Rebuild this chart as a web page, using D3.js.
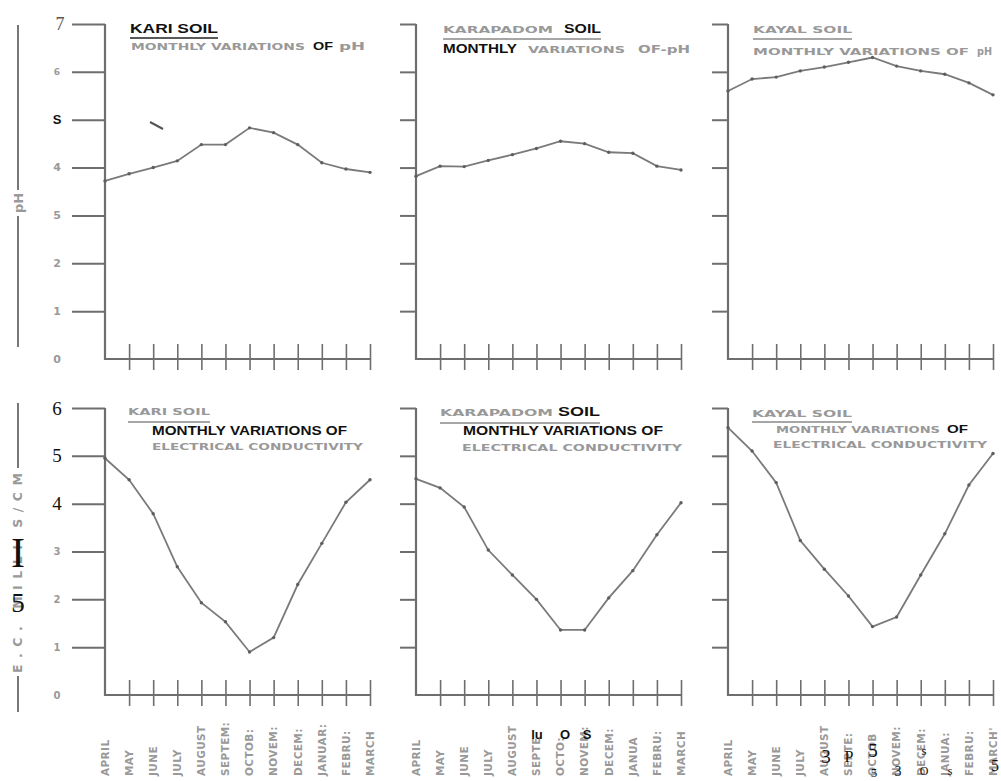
<!DOCTYPE html>
<meta charset="utf-8">
<script src="https://d3js.org/d3.v7.min.js"></script>
<style>
body { margin: 0; background: #fff; }
.grey { font-family: "DejaVu Sans", sans-serif; font-weight: bold; fill: #999; }
.bold { font-family: "Liberation Sans", Arial, sans-serif; font-weight: bold; fill: #111; }
.serif { font-family: "Liberation Serif", "DejaVu Serif", serif; fill: #111; }
</style>
<body>
<div id="chart"></div>
<script>
// months (scale domain) and the labels written under each bottom panel
var months = ["APRIL","MAY","JUNE","JULY","AUGUST","SEPTEMBER","OCTOBER","NOVEMBER","DECEMBER","JANUARY","FEBRUARY","MARCH"];
var kariMonthLabels = ["APRIL","MAY","JUNE","JULY","AUGUST","SEPTEM:","OCTOB:","NOVEM:","DECEM:","JANUAR:","FEBRU:","MARCH"];
var karapadomMonthLabels = ["APRIL","MAY","JUNE","JULY","AUGUST","SEPTE","OCTO:","NOVEM:","DECEM:","JANUA","FEBRU:","MARCH"];
var kayalMonthLabels = ["APRIL","MAY","JUNE","JULY","AUGUST","SEPTE:","OCTOB","NOVEM:","DECEM:","JANUA:","FEBRU:","MARCH'"];

// pH values
var kariPH      = [3.72, 3.87, 4.00, 4.14, 4.48, 4.48, 4.83, 4.73, 4.48, 4.10, 3.97, 3.90];
var karapadomPH = [3.82, 4.03, 4.02, 4.15, 4.27, 4.40, 4.55, 4.50, 4.32, 4.30, 4.03, 3.95];
var kayalPH     = [5.60, 5.85, 5.89, 6.02, 6.10, 6.20, 6.30, 6.12, 6.02, 5.95, 5.77, 5.52];

// electrical conductivity (milli S/cm)
var kariEC      = [4.95, 4.50, 3.79, 2.68, 1.93, 1.53, 0.90, 1.20, 2.31, 3.17, 4.03, 4.50];
var karapadomEC = [4.52, 4.33, 3.93, 3.03, 2.51, 2.00, 1.36, 1.36, 2.03, 2.60, 3.35, 4.02];
var kayalEC     = [5.59, 5.10, 4.44, 3.23, 2.63, 2.07, 1.43, 1.63, 2.51, 3.37, 4.39, 5.05];

// tick labels as they appear on the left axes
var phTicks = [0, 1, 2, 3, 4, 5, 6, 7];
var phTickLabels = ["0", "1", "2", "5", "4", "S", "6", "7"];
var ecTicks = [0, 1, 2, 3, 4, 5, 6];
var ecTickLabels = ["0", "1", "2", "3", "4", "5", "6"];

var svg = d3.select("#chart").append("svg")
  .attr("width", 1001)
  .attr("height", 781);

var axisColor = "#6e6e6e", lineColor = "#7a7a7a";

var rows = [
  { max: 7, top: 24, base: 359, ticks: phTicks, labels: phTickLabels,
    labelClass: function(i) { return i == 5 ? "bold" : (i == 7 ? "serifgrey" : "grey"); },
    labelSize: function(i) { return i == 5 ? 13 : (i == 7 ? 18 : (i == 6 ? 9 : 11)); } },
  { max: 6, top: 408, base: 695, ticks: ecTicks, labels: ecTickLabels,
    labelClass: function(i) { return i >= 4 ? "serif" : "grey"; },
    labelSize: function(i) { return i >= 4 ? 19 : 10; } }
];

var panels = [
  { row: 0, ox: 105, tick: 33, values: kariPH, titles: [
      ["KARI SOIL", 130, 33, "bold", 88, 13],
      ["MONTHLY VARIATIONS", 131, 50, "grey", 174, 9.5],
      ["OF", 313, 50, "bold", 20, 11],
      ["pH", 339, 50, "grey", 26, 10.5]], underline: [130, 218, 38, "#222"] },
  { row: 0, ox: 416, tick: 16, values: karapadomPH, titles: [
      ["KARAPADOM", 443, 33, "grey", 110, 9.5],
      ["SOIL", 564, 33, "bold", 37, 13],
      ["MONTHLY", 443, 53, "bold", 74, 12],
      ["VARIATIONS", 528, 53, "grey", 97, 9.5],
      ["OF-pH", 638, 53, "grey", 52, 10.5]], underline: [443, 601, 39, "#888"] },
  { row: 0, ox: 728, tick: 16, values: kayalPH, titles: [
      ["KAYAL SOIL", 753, 33, "grey", 99, 9.5],
      ["MONTHLY VARIATIONS OF", 753, 55, "grey", 216, 9.5],
      ["pH", 977, 55, "grey", 15, 10.5]], underline: [753, 852, 39, "#888"] },
  { row: 1, ox: 105, tick: 33, values: kariEC, monthLabels: kariMonthLabels, titles: [
      ["KARI SOIL", 128, 415, "grey", 82, 9.5],
      ["MONTHLY VARIATIONS OF", 152, 435, "bold", 195, 12],
      ["ELECTRICAL CONDUCTIVITY", 152, 450, "grey", 211, 9]], underline: [128, 210, 422, "#888"] },
  { row: 1, ox: 416, tick: 16, values: karapadomEC, monthLabels: karapadomMonthLabels, titles: [
      ["KARAPADOM", 440, 416, "grey", 113, 9.5],
      ["SOIL", 558, 416, "bold", 42, 13],
      ["MONTHLY VARIATIONS OF", 463, 435, "bold", 200, 12],
      ["ELECTRICAL CONDUCTIVITY", 462, 451, "grey", 220, 9]], underline: [440, 600, 423, "#888"] },
  { row: 1, ox: 728, tick: 16, values: kayalEC, monthLabels: kayalMonthLabels, titles: [
      ["KAYAL SOIL", 752, 417, "grey", 100, 9.5],
      ["MONTHLY VARIATIONS", 776, 433, "grey", 164, 9],
      ["OF", 947, 433, "bold", 21, 11],
      ["ELECTRICAL CONDUCTIVITY", 773, 448, "grey", 214, 9]], underline: [752, 852, 422, "#888"] }
];

panels.forEach(function(p) {
  var r = rows[p.row];
  var x = d3.scalePoint().domain(months).range([p.ox, p.ox + 265]);
  var y = d3.scaleLinear().domain([0, r.max]).range([r.base, r.top]);
  var g = svg.append("g");

  // y axis ticks
  var ya = g.append("g")
    .attr("transform", "translate(" + p.ox + ",0)")
    .call(d3.axisLeft(y).tickValues(r.ticks.slice(1)).tickSize(p.tick).tickFormat(""));
  ya.select(".domain").remove();
  ya.selectAll("line").attr("stroke", axisColor).attr("stroke-width", 2);

  // x axis ticks, crossing the base line
  var xa = g.append("g")
    .attr("transform", "translate(0," + r.base + ")")
    .call(d3.axisBottom(x).tickValues(months.slice(1)).tickFormat(""));
  xa.select(".domain").remove();
  xa.selectAll("line").attr("y1", -15).attr("y2", 11)
    .attr("stroke", axisColor).attr("stroke-width", 1.6);

  // axis frame
  g.append("path")
    .attr("d", "M" + p.ox + "," + y(r.max) + "V" + y(0) + "H" + x("MARCH"))
    .attr("fill", "none").attr("stroke", axisColor).attr("stroke-width", 2.2);

  // tick labels on the left column only
  if (p.ox == 105) {
    r.ticks.forEach(function(t, i) {
      var cls = r.labelClass(i);
      g.append("text")
        .attr("class", cls == "serifgrey" ? "serif" : cls)
        .attr("x", cls == "serifgrey" ? 60 : 57).attr("y", y(t)).attr("dy", "0.35em")
        .attr("text-anchor", "middle")
        .style("font-size", r.labelSize(i) + "px")
        .style("fill", cls == "serifgrey" ? "#555" : null)
        .text(r.labels[i]);
    });
  }

  // data line
  var line = d3.line()
    .x(function(d, i) { return x(months[i]); })
    .y(function(d) { return y(d); });
  g.append("path")
    .datum(p.values)
    .attr("d", line)
    .attr("fill", "none")
    .attr("stroke", lineColor)
    .attr("stroke-width", 1.8);
  g.selectAll("circle")
    .data(p.values).enter()
    .append("circle")
      .attr("cx", function(d, i) { return x(months[i]); })
      .attr("cy", function(d) { return y(d); })
      .attr("r", 1.7)
      .attr("fill", "#5e5e5e");

  // titles
  p.titles.forEach(function(t) {
    g.append("text")
      .attr("class", t[3])
      .attr("x", t[1]).attr("y", t[2])
      .attr("textLength", t[4])
      .attr("lengthAdjust", "spacingAndGlyphs")
      .style("font-size", t[5] + "px")
      .text(t[0]);
  });
  g.append("line")
    .attr("x1", p.underline[0]).attr("x2", p.underline[1])
    .attr("y1", p.underline[2]).attr("y2", p.underline[2])
    .attr("stroke", p.underline[3]).attr("stroke-width", 1.3);

  // month names under the bottom row
  if (p.monthLabels) {
    g.selectAll(".month")
      .data(p.monthLabels).enter()
      .append("text")
        .attr("class", "grey")
        .attr("transform", function(d, i) { return "translate(" + x(months[i]) + ",776) rotate(-90)"; })
        .attr("dy", "0.36em")
        .style("font-size", "10.5px")
        .style("letter-spacing", "0.4px")
        .text(function(d) { return d; });
  }
});

// side axis captions
function sideCaption(y1, y2, y3, y4, label, cy, size, len) {
  svg.append("line").attr("x1", 18).attr("x2", 18).attr("y1", y1).attr("y2", y2)
    .attr("stroke", "#777").attr("stroke-width", 2);
  svg.append("line").attr("x1", 18).attr("x2", 18).attr("y1", y3).attr("y2", y4)
    .attr("stroke", "#777").attr("stroke-width", 2);
  var t = svg.append("text")
    .attr("class", "grey")
    .attr("transform", "translate(18," + cy + ") rotate(-90)")
    .attr("text-anchor", "middle").attr("dy", "0.35em")
    .style("font-size", size + "px")
    .text(label);
  if (len) t.attr("textLength", len).attr("lengthAdjust", "spacing");
}
sideCaption(25, 190, 216, 347, "pH", 203, 13);
sideCaption(403, 468, 676, 712, "E.C. MILLI S/CM", 573, 12.5, 200);

// stray pen mark in the first panel
svg.append("line").attr("x1", 150).attr("y1", 122).attr("x2", 163).attr("y2", 129)
  .attr("stroke", "#555").attr("stroke-width", 2);

// dark characters printed over the scan
var overprint = [
  ["I", 18, 552, "serif", 42], ["5", 18, 603, "serif", 27],
  ["lu", 537, 734, "bold", 13], ["O", 565, 734, "bold", 13], ["S", 587, 734, "bold", 13],
  ["3", 826, 756, "serif", 19], ["P", 849, 756, "serif", 16], ["5", 873, 750, "serif", 19],
  ["5", 874, 772, "serif", 13], ["3", 898, 771, "serif", 14],
  ["s", 924, 750, "serif", 13], ["O", 924, 771, "serif", 12], ["s", 950, 771, "serif", 12],
  ["5", 995, 765, "serif", 16]
];
overprint.forEach(function(o) {
  svg.append("text")
    .attr("class", o[3])
    .attr("x", o[1]).attr("y", o[2]).attr("dy", "0.35em")
    .attr("text-anchor", "middle")
    .style("font-size", o[4] + "px")
    .text(o[0]);
});
</script>
</body>
